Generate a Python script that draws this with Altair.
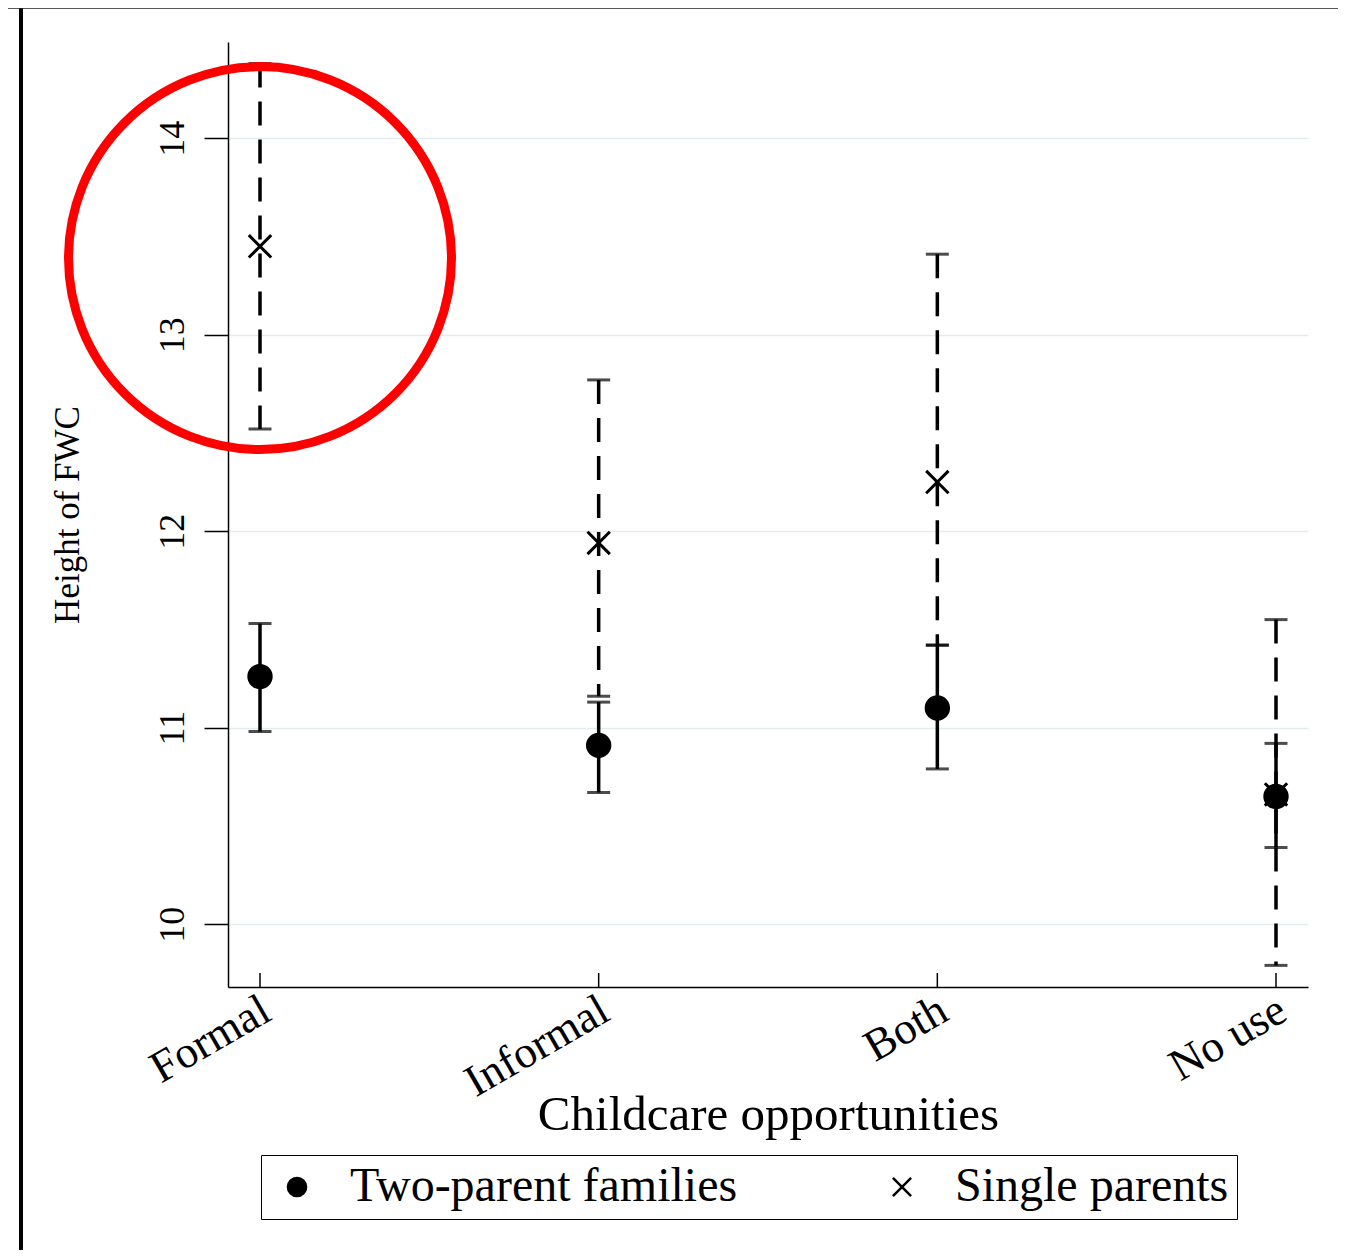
import altair as alt
import pandas as pd

categories = ["Formal", "Informal", "Both", "No use"]
groups = ["Two-parent families", "Single parents"]

two_mean = [11.26, 10.91, 11.10, 10.65]
two_lo = [10.98, 10.67, 10.79, 10.39]
two_hi = [11.53, 11.13, 11.42, 10.92]

single_mean = [13.45, 11.94, 12.25, 10.66]
single_lo = [12.52, 11.16, 11.42, 9.79]
single_hi = [14.38, 12.77, 13.41, 11.55]

y_ticks = [10, 11, 12, 13, 14]
y_domain = [9.68, 14.49]

highlight_cat = ["Formal"]
highlight_y = [13.39]

FONT = "Liberation Serif"

rows = []
for i, c in enumerate(categories):
    rows.append(dict(cat=c, group=groups[0], mean=two_mean[i], lo=two_lo[i], hi=two_hi[i]))
for i, c in enumerate(categories):
    rows.append(dict(cat=c, group=groups[1], mean=single_mean[i], lo=single_lo[i], hi=single_hi[i]))
df = pd.DataFrame(rows)
cat_df = pd.DataFrame({"cat": categories})
hl_df = pd.DataFrame({"cat": highlight_cat, "yv": highlight_y})
one_df = pd.DataFrame({"k": [0]})

xscale = alt.Scale(type="point", domain=categories, padding=0.0945)
xaxis = alt.Axis(
    labelAngle=330, labelAlign="right", labelBaseline="top", labelPadding=0, labelOffset=-5,
    labelFont=FONT, labelFontSize=45, labelColor="black",
    ticks=False, grid=False, domainColor="black", domainWidth=1.5,
    titleFont=FONT, titleFontSize=49, titleFontWeight="normal", titleColor="black",
    titleY=142, titleBaseline="alphabetic",
)
X = alt.X("cat:N", scale=xscale, axis=xaxis, title="Childcare opportunities")

yscale = alt.Scale(domain=y_domain, nice=False, zero=False)
yaxis = alt.Axis(
    values=y_ticks, labelAngle=270, labelAlign="center", labelBaseline="alphabetic",
    labelPadding=21, tickSize=24, tickWidth=1.5, tickColor="black",
    labelFont=FONT, labelFontSize=36, labelColor="black",
    domainColor="black", domainWidth=1.5,
    grid=True, gridColor="#e3ecee", gridWidth=1.5,
    titleFont=FONT, titleFontSize=35, titleFontWeight="normal", titleColor="black",
    titleX=-150, titleBaseline="alphabetic",
)
YT = "Height of FWC"

def Y(field):
    return alt.Y(field, scale=yscale, axis=yaxis, title=YT)

base = alt.Chart(df).encode(x=X)
two = base.transform_filter(alt.datum.group == groups[0])
single = base.transform_filter(alt.datum.group == groups[1])

two_bar = two.mark_rule(color="black", strokeWidth=3.5).encode(y=Y("lo:Q"), y2="hi:Q")
single_bar = single.mark_rule(color="black", strokeWidth=3.5, strokeDash=[24, 14]).encode(y=Y("hi:Q"), y2="lo:Q")
cap_lo = base.mark_tick(color="black", size=23, thickness=3).encode(y=Y("lo:Q"))
cap_hi = base.mark_tick(color="black", size=23, thickness=3).encode(y=Y("hi:Q"))

leg = alt.Legend(
    title=None, orient="none", legendX=33, legendY=1113, direction="horizontal",
    strokeColor="black", padding=8, labelFont=FONT, labelFontSize=48, labelColor="black",
    labelLimit=800, labelOffset=29, symbolSize=330, symbolStrokeWidth=2.5,
    symbolOffset=4, columnPadding=136,
)
X_PATH = "M-1,-1L1,1M-1,1L1,-1"
points = base.mark_point(strokeWidth=3, size=500, opacity=1).encode(
    y=Y("mean:Q"),
    shape=alt.Shape("group:N", scale=alt.Scale(domain=groups, range=["circle", X_PATH]), legend=leg),
    fill=alt.Fill("group:N", scale=alt.Scale(domain=groups, range=["black", "transparent"]), legend=leg),
    stroke=alt.Stroke("group:N", scale=alt.Scale(domain=groups, range=["black", "#000000"]), legend=leg),
)

ring = alt.Chart(hl_df).mark_point(
    shape="circle", filled=False, color="red", stroke="red", strokeWidth=9, size=383 * 383, opacity=1
).encode(x=X, y=Y("yv:Q"))

xticks = alt.Chart(cat_df).mark_rule(color="black", strokeWidth=1.5).encode(
    x=X, y=alt.value(945), y2=alt.value(931)
)

frame_left = alt.Chart(one_df).mark_rule(color="black", strokeWidth=4).encode(
    x=alt.value(-207), y=alt.value(-35), y2=alt.value(1230)
)
frame_top = alt.Chart(one_df).mark_rule(color="#222222", strokeWidth=1.5).encode(
    x=alt.value(-228), x2=alt.value(1120), y=alt.value(-34)
)

chart = alt.layer(
    two_bar, single_bar, cap_lo, cap_hi, points, ring, xticks, frame_left, frame_top
).properties(
    width=1080, height=945,
    autosize=alt.AutoSizeParams(type="none"),
    padding={"left": 220, "top": 34, "right": 30, "bottom": 263},
).configure(
    background="white", view=alt.ViewConfig(stroke=None)
)

chart.save("out.html", embed_options={"renderer": "svg", "actions": False})
